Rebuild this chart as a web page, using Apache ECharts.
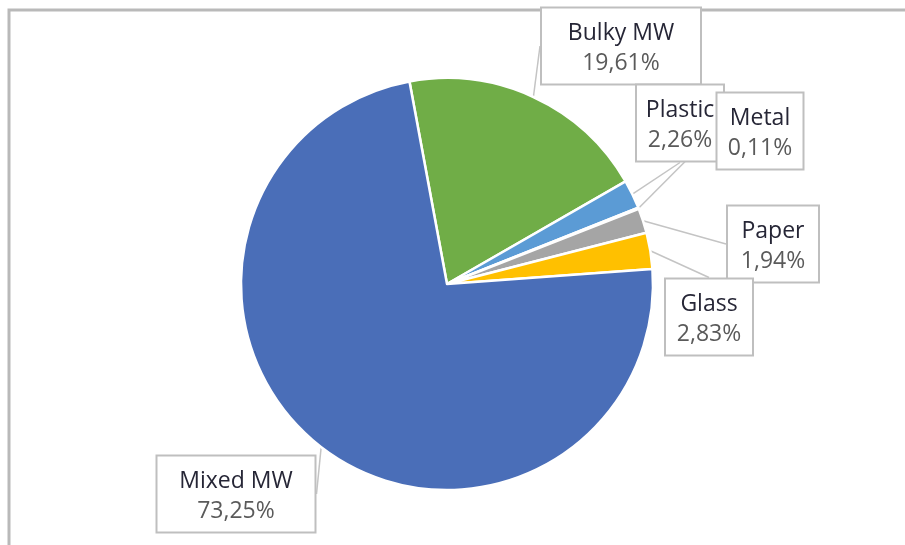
<!DOCTYPE html>
<html>
<head>
<meta charset="utf-8">
<script src="https://cdn.jsdelivr.net/npm/echarts@6/dist/echarts.min.js"></script>
<style>
  html, body { margin: 0; padding: 0; background: #ffffff; }
  #chart { width: 905px; height: 545px; }
</style>
</head>
<body>
<div id="chart"></div>
<script>
// Waste composition shares (%), listed clockwise from the top of the pie
const categories = ['Bulky MW', 'Plastic', 'Metal', 'Paper', 'Glass', 'Mixed MW'];
const shares = [19.61, 2.26, 0.11, 1.94, 2.83, 73.25];
const valueLabels = ['19,61%', '2,26%', '0,11%', '1,94%', '2,83%', '73,25%'];

// Slice colours and label-box placement (centre x, centre y, width)
const sliceColors = ['#70AD47', '#5B9BD5', '#ED7D31', '#A5A5A5', '#FFC000', '#4A6EB8'];
const labelBoxes = [
  [621, 46, 158],
  [680, 123, 86],
  [760, 131, 85],
  [773, 244, 90],
  [709, 317, 86],
  [236, 494, 157]
];

const chart = echarts.init(document.getElementById('chart'), null, { renderer: 'canvas' });

const pieData = categories.map((name, i) => ({
  name: name,
  value: shares[i],
  itemStyle: { color: sliceColors[i] },
  label: { width: labelBoxes[i][2] - 4 }
}));

chart.setOption({
  backgroundColor: '#ffffff',
  animation: false,
  graphic: [
    {
      type: 'polyline',
      shape: { points: [[9, 545], [9, 10], [905, 10]] },
      style: { stroke: '#b9b9b9', lineWidth: 3, fill: null },
      silent: true
    }
  ],
  series: [
    {
      type: 'pie',
      center: [447, 284],
      radius: [0, 206],
      startAngle: 100.5,
      clockwise: true,
      minAngle: 0,
      avoidLabelOverlap: false,
      data: pieData,
      itemStyle: { borderColor: '#ffffff', borderWidth: 2.5 },
      label: {
        show: true,
        position: 'outside',
        backgroundColor: '#ffffff',
        borderColor: '#bfbfbf',
        borderWidth: 2,
        padding: [10, 2, 5, 2],
        align: 'center',
        verticalAlign: 'middle',
        formatter: function (p) {
          return '{n|' + p.name + '}\n{v|' + valueLabels[p.dataIndex] + '}';
        },
        rich: {
          n: {
            fontFamily: 'Open Sans',
            fontSize: 23,
            color: '#262636',
            lineHeight: 30,
            align: 'center'
          },
          v: {
            fontFamily: 'Open Sans',
            fontSize: 23,
            color: '#5a5a5a',
            lineHeight: 30,
            align: 'center'
          }
        }
      },
      labelLine: {
        show: true,
        length: 12,
        length2: 0,
        lineStyle: { color: '#c4c4c4', width: 1.5 }
      },
      labelLayout: function (params) {
        const b = labelBoxes[params.dataIndex];
        return {
          x: b[0],
          y: b[1],
          align: 'center',
          verticalAlign: 'middle'
        };
      },
      emphasis: { disabled: true }
    }
  ]
});
</script>
</body>
</html>
